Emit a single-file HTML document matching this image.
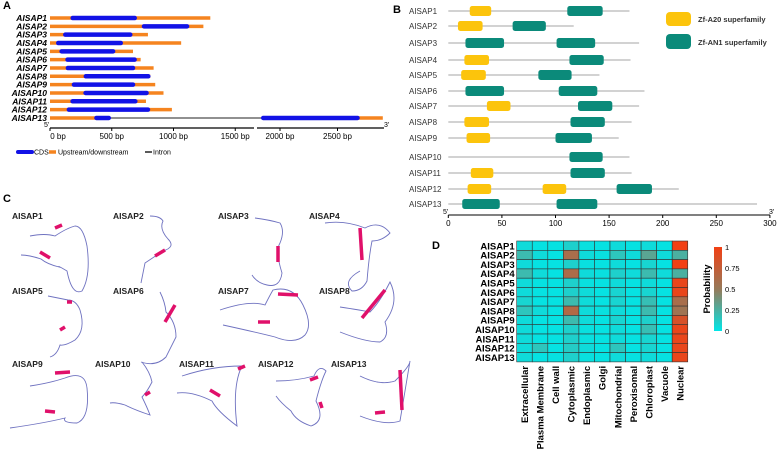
<!DOCTYPE html>
<html><head><meta charset="utf-8"><style>
html,body{margin:0;padding:0;background:#fff;}
svg{display:block;font-family:"Liberation Sans",Arial,sans-serif;}
</style></head><body>
<svg id="fig" width="778" height="456" viewBox="0 0 778 456">
<g id="panelA"></g>
<g id="panelB"></g>
<g id="panelC"></g>
<g id="panelD"></g>
</svg>
<script>
var NS='http://www.w3.org/2000/svg';
function mk(parent,tag,attrs,text){var e=document.createElementNS(NS,tag);for(var k in attrs)e.setAttribute(k,attrs[k]);if(text!==undefined)e.textContent=text;parent.appendChild(e);return e;}

// ---------- Panel A data ----------
var genes=['AlSAP1','AlSAP2','AlSAP3','AlSAP4','AlSAP5','AlSAP6','AlSAP7','AlSAP8','AlSAP9','AlSAP10','AlSAP11','AlSAP12','AlSAP13'];
var geneLen=[1298,1242,793,1062,672,734,839,812,852,919,777,987,2894];
var cdsStart=[184,761,124,67,94,142,145,290,194,288,183,153,376];
var cdsEnd=[686,1110,650,573,511,685,672,796,672,782,691,793,476];
var cds2Start=[null,null,null,null,null,null,null,null,null,null,null,null,1854];
var cds2End=[null,null,null,null,null,null,null,null,null,null,null,null,2674];
var aTicks=[0,500,1000,1500,2000,2500];

function ax(bp){return bp<=1650?50+bp*0.1235:257+(bp-1800)*0.1150;}
function ay(i){return 18+i*8.33;}
var A=document.getElementById('panelA');
mk(A,'text',{x:3,y:9,'font-size':11,'font-weight':'bold'},'A');
for(var i=0;i<genes.length;i++){
  var y=ay(i);
  var t=mk(A,'text',{x:47,y:y+3,'font-size':8.5,'font-weight':'bold','font-style':'italic','text-anchor':'end'},genes[i].replace('l','I'));
  
  if(cds2Start[i]!==null){
    var u1=mk(A,'line',{x1:ax(0),x2:ax(cdsStart[i]),y1:y,y2:y,stroke:'#f5841f','stroke-width':3.5});
    
    var it=mk(A,'line',{x1:ax(cdsEnd[i]),x2:ax(cds2Start[i]),y1:y,y2:y,stroke:'#222','stroke-width':1});
    
    var u2=mk(A,'line',{x1:ax(cds2End[i]),x2:ax(geneLen[i]),y1:y,y2:y,stroke:'#f5841f','stroke-width':3.5});
    
    var c2=mk(A,'line',{x1:ax(cds2Start[i]),x2:ax(cds2End[i]),y1:y,y2:y,stroke:'#1212e6','stroke-width':4.5,'stroke-linecap':'round'});
    
  } else {
    var u=mk(A,'line',{x1:ax(0),x2:ax(geneLen[i]),y1:y,y2:y,stroke:'#f5841f','stroke-width':3.5});
    
  }
  var c=mk(A,'line',{x1:ax(cdsStart[i]),x2:ax(cdsEnd[i]),y1:y,y2:y,stroke:'#1212e6','stroke-width':4.5,'stroke-linecap':'round'});
  
}
var axA=mk(A,'path',{d:'M50 128H254M257 128H384',stroke:'#000','stroke-width':1.2,fill:'none'});

mk(A,'text',{x:44,y:127,'font-size':7},"5'");mk(A,'text',{x:384,y:127,'font-size':7},"3'");
aTicks.forEach(function(b,k){
  var x=ax(b);mk(A,'line',{x1:x,x2:x,y1:128,y2:131,stroke:'#000','stroke-width':1});
  var tl=mk(A,'text',{x:x+(k==0?8:0),y:139,'font-size':8,'text-anchor':'middle'},b+' bp');
  
});
var lg=mk(A,'g',{});
mk(lg,'line',{x1:18,x2:32,y1:152,y2:152,stroke:'#1212e6','stroke-width':4,'stroke-linecap':'round'});
mk(lg,'text',{x:34,y:154.5,'font-size':7},'CDS');
mk(lg,'line',{x1:49,x2:56,y1:152,y2:152,stroke:'#f5841f','stroke-width':3.5});
mk(lg,'text',{x:58,y:154.5,'font-size':7},'Upstream/downstream');
mk(lg,'line',{x1:145,x2:152,y1:152,y2:152,stroke:'#222','stroke-width':1.5});
mk(lg,'text',{x:153,y:154.5,'font-size':7},'Intron');

// ---------- Panel B data ----------
var protLen=[169,117,178,170,141,183,178,171,159,169,171,215,288];
var dStart=[[20,111],[9,60],[16,101],[15,113],[12,84],[16,103],[36,121],[15,114],[17,100],[113],[21,114],[18,88,157],[13,101]];
var dEnd=[[40,144],[32,91],[52,137],[38,145],[35,115],[52,139],[58,153],[38,146],[39,134],[144],[42,146],[40,110,190],[48,139]];
var dType=[['A','N'],['A','N'],['N','N'],['A','N'],['A','N'],['N','N'],['A','N'],['A','N'],['A','N'],['N'],['A','N'],['A','A','N'],['N','N']];
var bRowY=[11,26,43,60,75,91,106,122,138,157,173,189,204];
var bTicks=[0,50,100,150,200,250,300];
function bx(aa){return 448.3+aa*1.072;}
var B=document.getElementById('panelB');
mk(B,'text',{x:393,y:13,'font-size':11,'font-weight':'bold'},'B');
var col={A:'#fcc40c',N:'#0b8a7a'};
for(var i=0;i<protLen.length;i++){
  var y=bRowY[i];
  var t=mk(B,'text',{x:409,y:y+3,'font-size':8,fill:'#333'},genes[i].replace('l','I'));
  
  var l=mk(B,'line',{x1:bx(0),x2:bx(protLen[i]),y1:y,y2:y,stroke:'#888','stroke-width':0.8});
  
  for(var j=0;j<dStart[i].length;j++){
    var r=mk(B,'rect',{x:bx(dStart[i][j]),y:y-5,width:bx(dEnd[i][j])-bx(dStart[i][j]),height:10,rx:2.5,fill:col[dType[i][j]]});
    
  }
}
mk(B,'line',{x1:bx(0),x2:bx(300),y1:215,y2:215,stroke:'#000','stroke-width':1});
mk(B,'text',{x:443,y:214,'font-size':7},"5'");mk(B,'text',{x:769,y:214,'font-size':7},"3'");
bTicks.forEach(function(v){var x=bx(v);mk(B,'line',{x1:x,x2:x,y1:215,y2:218,stroke:'#000'});
  var tl=mk(B,'text',{x:x,y:226,'font-size':8,'text-anchor':'middle'},v);});
var lb=mk(B,'g',{});
mk(lb,'rect',{x:666,y:12,width:25,height:14,rx:4,fill:'#fcc40c'});
mk(lb,'text',{x:698,y:22,'font-size':7.5,'font-weight':'bold',fill:'#333'},'Zf-A20  superfamily');
mk(lb,'rect',{x:666,y:34,width:25,height:15,rx:4,fill:'#0b8a7a'});
mk(lb,'text',{x:698,y:45,'font-size':7.5,'font-weight':'bold',fill:'#333'},'Zf-AN1  superfamily');

// ---------- Panel C ----------
var C=document.getElementById('panelC');
mk(C,'text',{x:3,y:202,'font-size':11,'font-weight':'bold'},'C');
var sLabels=[[12,219],[113,219],[218,219],[309,219],[12,294],[113,294],[218,294],[319,294],[12,367],[95,367],[179,367],[258,367],[331,367]];
var shapes=[
 'M30 236 q15 -3 25 0 q12 -8 20 -10 q8 0 12 20 q4 30 -5 45 q-10 5 -15 -20 q-10 -6 -8 -4 q-12 -3 -18 -8 q-12 -4 -20 -4',
 'M150 216 q10 0 13 5 q-4 8 5 18 q8 8 -5 12 q-12 8 -18 12 q-2 10 -4 20',
 'M255 218 q15 2 25 5 q5 8 0 20 q-5 8 2 30 q-2 15 -15 12 q-10 -2 -15 -10',
 'M325 223 q20 -3 40 5 q15 -8 25 5 q-8 8 -18 8 q-3 15 -5 40 q-5 10 -15 10 q-10 -10 8 -20',
 'M48 296 q10 2 20 4 q8 0 12 10 q6 20 -5 30 q-10 6 -15 5 q-3 10 -10 12',
 'M160 292 q5 10 6 20 q10 10 10 25 q-5 10 -10 20 q-10 10 -25 5',
 'M220 310 q30 -10 45 -5 q5 -10 8 -15 q20 -5 30 15 q10 20 2 30 q-10 10 -30 2 q-20 -5 -52 -12',
 'M340 307 q20 3 30 5 q10 -10 20 -30 q10 20 -5 40 q5 15 -5 20 q-15 0 -40 -10',
 'M30 386 q20 -3 35 -8 q20 -8 22 10 q3 30 -10 35 q-15 0 -12 -5 q-20 5 -55 10',
 'M142 362 q8 10 10 20 q-5 10 -10 15 q5 10 8 18 q-15 -5 -25 -10 q-10 -3 -15 -2',
 'M182 376 q30 -10 60 -10 q-10 20 -5 60 q-20 -15 -25 -25 q-20 -10 -35 -8',
 'M276 381 q20 0 38 -5 q5 -12 12 -5 q-5 10 -10 30 q10 20 -5 25 q-15 -5 -20 -15 q-10 -8 -15 -15',
 'M360 376 q20 10 35 5 q15 -15 15 -20 q-5 30 -10 60 q-15 5 -40 -5'];
var helix=[[[40,252,50,258],[55,228,62,225]],[[165,250,155,256]],[[278,246,278,262]],[[360,228,362,260]],[[67,302,72,302],[60,330,65,327]],[[165,322,175,305]],[[258,322,270,322],[278,294,298,295]],[[362,318,385,290]],[[55,373,70,372],[45,411,55,412]],[[145,395,150,392]],[[238,369,245,366],[210,390,220,396]],[[310,380,318,377],[320,402,322,408]],[[400,370,402,410],[375,413,385,412]]];
for(var s=0;s<shapes.length;s++){
  var lt=mk(C,'text',{x:sLabels[s][0],y:sLabels[s][1],'font-size':8.5,'font-weight':'bold',fill:'#222'},'AISAP'+(s+1));
  
  var p=mk(C,'path',{d:shapes[s],stroke:'#6f72c0','stroke-width':0.9,fill:'none'});
  
  helix[s].forEach(function(h){mk(C,'line',{x1:h[0],y1:h[1],x2:h[2],y2:h[3],stroke:'#e0106a','stroke-width':3.5});});
}

// ---------- Panel D data ----------
var locRows=['AISAP1','AISAP2','AISAP3','AISAP4','AISAP5','AISAP6','AISAP7','AISAP8','AISAP9','AISAP10','AISAP11','AISAP12','AISAP13'];
var locCols=['Extracellular','Plasma Membrane','Cell wall','Cytoplasmic','Endoplasmic','Golgi','Mitochondrial','Peroxisomal','Chloroplast','Vacuole','Nuclear'];
var locVals=[
 [0.05,0.02,0.02,0.10,0.03,0.02,0.05,0.02,0.05,0.02,1.00],
 [0.20,0.05,0.02,0.60,0.05,0.03,0.15,0.05,0.30,0.05,0.25],
 [0.05,0.02,0.02,0.10,0.03,0.02,0.05,0.02,0.08,0.02,1.00],
 [0.20,0.05,0.02,0.62,0.05,0.03,0.10,0.05,0.20,0.05,0.25],
 [0.05,0.02,0.02,0.10,0.03,0.02,0.05,0.02,0.05,0.02,0.95],
 [0.05,0.02,0.02,0.10,0.05,0.02,0.08,0.02,0.08,0.02,0.95],
 [0.08,0.02,0.02,0.20,0.05,0.02,0.08,0.02,0.18,0.02,0.60],
 [0.15,0.05,0.02,0.65,0.05,0.03,0.05,0.02,0.20,0.02,0.55],
 [0.05,0.02,0.02,0.20,0.05,0.02,0.08,0.02,0.10,0.02,0.85],
 [0.05,0.02,0.02,0.10,0.03,0.02,0.05,0.02,0.18,0.02,0.95],
 [0.05,0.02,0.02,0.10,0.03,0.02,0.05,0.02,0.08,0.02,0.95],
 [0.05,0.15,0.02,0.12,0.05,0.02,0.15,0.02,0.08,0.02,0.95],
 [0.05,0.02,0.02,0.10,0.03,0.02,0.05,0.02,0.05,0.02,0.95]];
var cbTicks=[0,0.25,0.5,0.75,1];
function colr(v){var a=[0,230,232],m=[150,122,90],b=[242,64,20],r=[];
  for(var k=0;k<3;k++)r.push(Math.round(v<0.5?a[k]+(m[k]-a[k])*v/0.5:m[k]+(b[k]-m[k])*(v-0.5)/0.5));
  return 'rgb('+r.join(',')+')';}
var hx0=516.7,hy0=241,cw=15.55,rh=9.3;
function hx(j){return hx0+j*cw;} function hy(i){return hy0+i*rh;}
var D=document.getElementById('panelD');
mk(D,'text',{x:432,y:249,'font-size':11,'font-weight':'bold'},'D');
for(var i=0;i<locRows.length;i++){
  var rt=mk(D,'text',{x:hx0-2,y:hy(i)+rh-1,'font-size':9.5,'font-weight':'bold','text-anchor':'end'},locRows[i]);
  
  for(var j=0;j<locCols.length;j++){
    var cell=mk(D,'rect',{x:hx(j),y:hy(i),width:cw,height:rh,fill:colr(locVals[i][j]),stroke:'#333','stroke-width':0.6});
    
  }
}
for(var j=0;j<locCols.length;j++){
  var cx=hx(j)+cw/2+3.5;
  var ct=mk(D,'text',{x:0,y:0,'font-size':9.5,'font-weight':'bold','text-anchor':'end',transform:'translate('+cx+','+(hy0+13*rh+4)+') rotate(-90)'},locCols[j]);
  
}
var defs=mk(D,'defs',{});var gr=mk(defs,'linearGradient',{id:'cb',x1:0,y1:1,x2:0,y2:0});
[0,0.25,0.5,0.75,1].forEach(function(v){mk(gr,'stop',{offset:v,'stop-color':colr(v)});});
var cbar=mk(D,'rect',{x:714,y:247,width:8,height:84,fill:'url(#cb)'});

cbTicks.forEach(function(v){var y=331-v*84;
  var tl=mk(D,'text',{x:725,y:y+3,'font-size':7.5},v);});
var pt=mk(D,'text',{x:0,y:0,'font-size':9.5,'font-weight':'bold','text-anchor':'middle',transform:'translate(710,289) rotate(-90)'},'Probability');

</script>
</body></html>
